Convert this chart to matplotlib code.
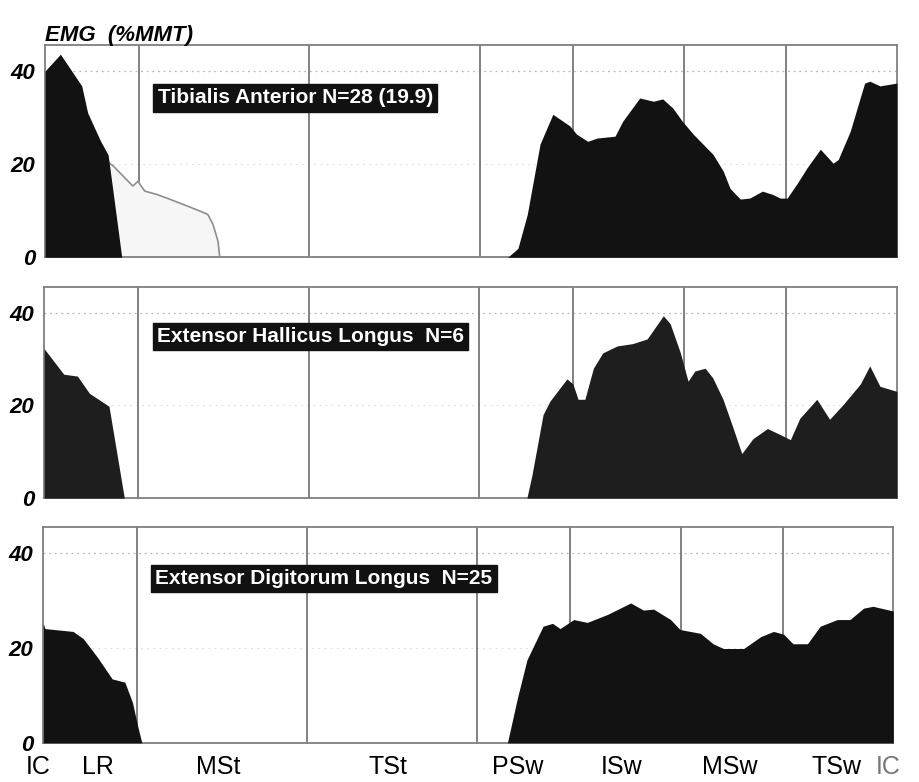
import matplotlib
matplotlib.use("Agg")
import matplotlib.pyplot as plt

# ---------------- data (percent gait cycle, %MMT) ----------------
phase_lines = [11, 31, 51, 62, 75, 87]
phase_labels = ["IC", "LR", "MSt", "TSt", "PSw", "ISw", "MSw", "TSw", "IC"]
phase_label_pos = [-0.6, 6.4, 20.6, 40.6, 55.8, 68.0, 80.8, 93.3, 99.4]
yticks = [0, 20, 40]

muscle_names = ["Tibialis Anterior N=28 (19.9)",
                "Extensor Hallicus Longus  N=6",
                "Extensor Digitorum Longus  N=25"]

# Tibialis anterior - stance (significant, black)
ta_st_x = [0, 1.8, 4.3, 5.0, 6.5, 7.4, 9.0]
ta_st_y = [40, 43.6, 36.8, 31, 25, 22, 0]
# Tibialis anterior - stance (non-significant, light outline)
ta_ns_x = [7.3, 8.0, 10.3, 10.9, 11.7, 13.1, 14.3, 16.7, 18.2, 19.1, 19.7, 20.3, 20.5]
ta_ns_y = [20.6, 19.6, 15.3, 16.3, 14.2, 13.5, 12.7, 11.0, 9.9, 9.2, 7.1, 3.4, 0]
# Tibialis anterior - swing
ta_sw_x = [54.3, 55.5, 56.6, 58.1, 59.6, 61.6, 62.4, 63.7, 64.8, 66.9, 67.8, 69.8,
           71.4, 72.5, 73.7, 74.8, 76.1, 78.4, 79.6, 80.4, 81.6, 82.7, 84.2, 85.4,
           86.3, 87.1, 88.3, 89.4, 91.0, 92.5, 93.1, 94.5, 96.2, 96.8, 98.0, 100]
ta_sw_y = [0, 1.9, 9.2, 24.3, 30.7, 28.2, 26.4, 24.9, 25.6, 26.0, 29.2, 34.2,
           33.5, 34.0, 32.0, 29.2, 26.4, 22.1, 18.5, 14.8, 12.5, 12.7, 14.2, 13.5,
           12.7, 12.7, 15.9, 19.1, 23.2, 20.2, 21.0, 27.0, 37.4, 37.8, 36.8, 37.4]

# Extensor hallucis longus
ehl_st_x = [0, 2.3, 3.9, 5.3, 7.6, 9.4]
ehl_st_y = [32.2, 26.7, 26.3, 22.6, 19.8, 0]
ehl_sw_x = [56.6, 57.2, 58.5, 59.3, 61.3, 62.0, 62.6, 63.4, 64.4, 65.5, 67.2, 69.0,
            70.7, 72.6, 73.4, 74.6, 75.5, 76.3, 77.5, 78.4, 79.6, 80.8, 81.8, 83.1,
            84.8, 86.3, 87.5, 88.6, 90.6, 92.1, 93.7, 95.7, 96.8, 98.0, 100]
ehl_sw_y = [0, 5.0, 18.0, 20.9, 25.7, 24.6, 21.3, 21.3, 28.0, 31.3, 32.8, 33.3,
            34.3, 39.3, 37.6, 31.3, 25.2, 27.4, 28.0, 25.9, 21.3, 15.0, 9.6, 12.8,
            15.0, 13.7, 12.6, 17.2, 21.3, 17.0, 20.2, 24.6, 28.5, 24.1, 23.0]

# Extensor digitorum longus
edl_st_x = [0, 0.2, 3.5, 4.7, 6.4, 8.1, 9.6, 10.5, 11.1, 11.6]
edl_st_y = [25.2, 24.1, 23.5, 22.0, 18.0, 13.5, 12.8, 8.5, 3.6, 0]
edl_sw_x = [54.6, 55.8, 56.9, 58.8, 59.9, 60.8, 62.4, 64.0, 66.4, 69.1, 70.6, 71.8,
            73.8, 74.9, 77.3, 78.8, 80.0, 82.4, 84.4, 85.9, 87.1, 88.2, 89.9, 91.4,
            93.4, 94.9, 96.5, 97.6, 100]
edl_sw_y = [0, 9.6, 17.5, 24.6, 25.2, 24.1, 26.0, 25.4, 27.1, 29.5, 28.0, 28.2,
            26.0, 23.9, 23.1, 20.9, 19.9, 19.9, 22.4, 23.5, 22.9, 20.9, 20.9, 24.6,
            26.0, 26.0, 28.4, 28.8, 27.8]

# ---------------- figure ----------------
fig = plt.figure(figsize=(9.2, 7.82), dpi=100)
fig.patch.set_facecolor("white")

panel_rects = [
    [0.049, 0.671, 0.926, 0.271],
    [0.048, 0.363, 0.927, 0.270],
    [0.047, 0.050, 0.924, 0.276],
]
fills = [
    [(ta_st_x, ta_st_y), (ta_sw_x, ta_sw_y)],
    [(ehl_st_x, ehl_st_y), (ehl_sw_x, ehl_sw_y)],
    [(edl_st_x, edl_st_y), (edl_sw_x, edl_sw_y)],
]
fill_colors = ["#121212", "#1e1e1e", "#121212"]
label_y = [34.2, 34.8, 34.6]
label_x = [13.2, 13.2, 13.2]
frame_col = "#7f7f7f"

axes = []
for i, rect in enumerate(panel_rects):
    ax = fig.add_axes(rect)
    axes.append(ax)
    for s in ax.spines.values():
        s.set_color(frame_col)
        s.set_linewidth(1.3)
    # faint dotted gridlines
    ax.axhline(40, color="#b8b8b8", lw=0.9, ls=(0, (1.5, 3)), zorder=1)
    ax.axhline(20, color="#dddddd", lw=0.8, ls=(0, (1.5, 4)), zorder=1)
    for xl in phase_lines:
        ax.axvline(xl, color="#777777", lw=1.3, zorder=1)
    if i == 0:
        ax.fill_between(ta_ns_x, ta_ns_y, 0, color="#f6f6f6", zorder=2)
        ax.plot(ta_ns_x, ta_ns_y, color="#8f8f8f", lw=1.2, zorder=3)
    for fx, fy in fills[i]:
        ax.fill_between(fx, fy, 0, color=fill_colors[i], lw=0, zorder=4)
    ax.set_yticks(yticks)
    ax.set_yticklabels([str(v) for v in yticks], fontsize=16,
                       fontweight="bold", fontstyle="italic", family="Liberation Sans")
    ax.tick_params(axis="y", length=0, pad=7)
    ax.set_xticks([])
    ax.text(label_x[i], label_y[i], muscle_names[i], fontsize=15, fontweight="bold",
            color="white", family="Liberation Sans", va="center", ha="left",
            zorder=6,
            bbox=dict(boxstyle="square,pad=0.2", fc="#111111", ec="#111111"))
    ax.set_xlim(0, 100)
    ax.set_ylim(0, 45.5)

# phase labels along the bottom panel
ax = axes[2]
for j, (pos, lab) in enumerate(zip(phase_label_pos, phase_labels)):
    col = "#777777" if j == len(phase_labels) - 1 else "black"
    ax.text(pos, -2.6, lab, fontsize=18, family="Liberation Sans", color=col,
            ha="center", va="top", clip_on=False)

fig.text(0.049, 0.9475, "EMG  (%MMT)", fontsize=16, fontweight="bold",
         fontstyle="italic", family="Liberation Sans", ha="left", va="baseline")

fig.savefig("out.png", dpi=100, facecolor="white")
